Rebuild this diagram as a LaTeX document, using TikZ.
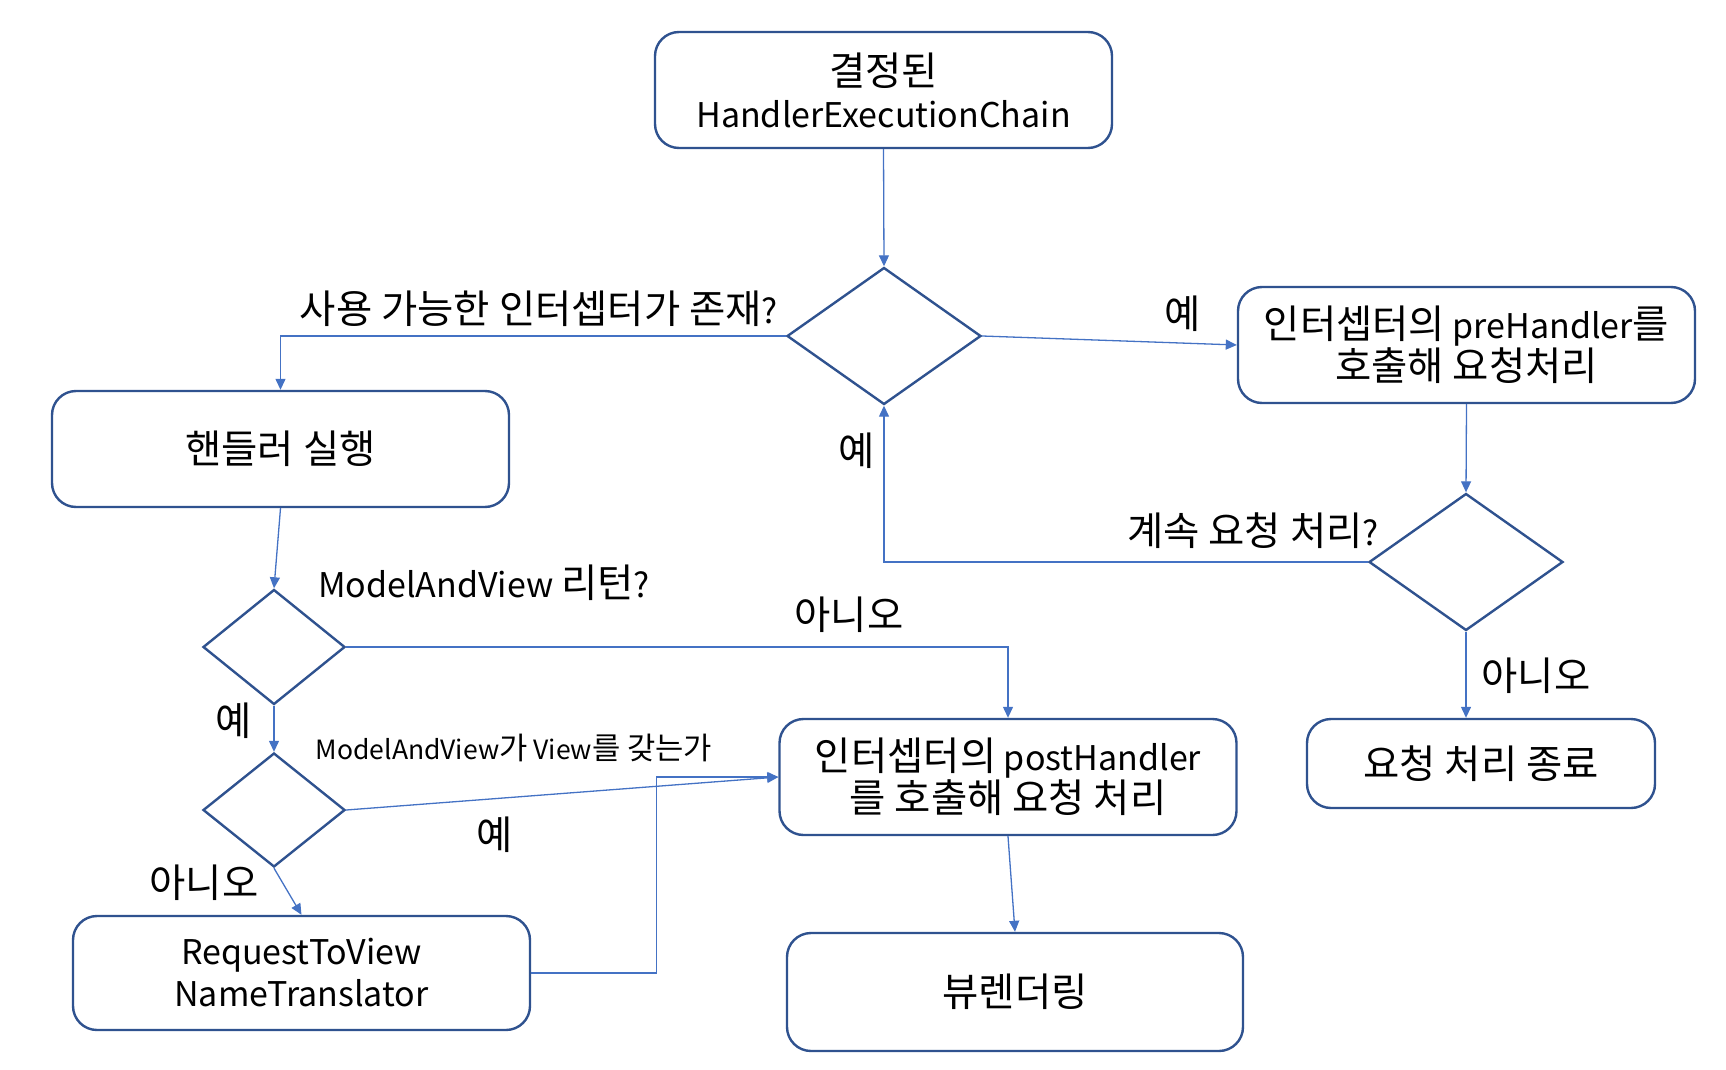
\documentclass[tikz,border=0pt]{standalone}
\usepackage{fontspec}
\setmainfont{Noto Sans CJK KR}
\newfontfamily\hangulfont{Noto Sans CJK KR}[Scale=1.16]
\newcommand{\hangul}[1]{{\hangulfont #1}}
\usetikzlibrary{shapes.geometric,arrows.meta}
\definecolor{boxline}{HTML}{2F528F}
\definecolor{linkline}{HTML}{4472C4}
\tikzset{
  procbox/.style={draw=boxline, line width=2.4pt, rounded corners=24pt, fill=white,
    minimum width=457pt, minimum height=116pt, inner sep=0pt, align=center,
    font=\fontsize{34}{42}\selectfont},
  decision/.style={draw=boxline, line width=2.4pt, diamond, inner sep=0pt, fill=white,
    minimum width=194pt, minimum height=137pt},
  smalldecision/.style={decision, minimum width=142pt, minimum height=115pt},
  link/.style={draw=linkline, line width=1.3pt, -{Triangle[length=11pt,width=10pt]}},
  lbl/.style={inner sep=0pt, font=\fontsize{34}{42}\selectfont},
  smalllbl/.style={inner sep=0pt, font=\fontsize{26.5}{32}\selectfont}
}
\begin{document}
\begin{tikzpicture}[x=1pt, y=-1pt]
\useasboundingbox (0,0) rectangle (1726,1070);
% Boxes
\node[procbox] (chain) at (883.5,90) {\hangul{결정된}\\HandlerExecutionChain};
\node[procbox] (pre) at (1466.5,345) {\hangul{인터셉터의} preHandler\hangul{를}\\\hangul{호출해 요청처리}};
\node[procbox, minimum width=348pt, minimum height=89pt] (done) at (1481,763.5) {\hangul{요청 처리 종료}};
\node[procbox] (handler) at (280.5,449) {\hangul{핸들러 실행}};
\node[procbox] (post) at (1008,777) {\hangul{인터셉터의} postHandler\\\hangul{를 호출해 요청 처리}};
\node[procbox, minimum height=114pt] (rtv) at (301.5,973) {RequestToView\\NameTranslator};
\node[procbox, minimum width=456pt, minimum height=118pt] (render) at (1015,992) {\hangul{뷰렌더링}};
% Decisions
\node[decision] (avail) at (884,336) {};
\node[decision] (cont) at (1466,562) {};
\node[smalldecision] (mavret) at (274,647) {};
\node[smalldecision, minimum height=114pt] (hasview) at (274,810) {};
% Connectors
\draw[link] (chain.south) -- (avail.north);
\draw[link] (avail.west) -| (handler.north);
\draw[link] (avail.east) -- (pre.west);
\draw[link] (pre.south) -- (cont.north);
\draw[link] (cont.west) -| (avail.south);
\draw[link] (cont.south) -- (cont.south |- done.north);
\draw[link] (handler.south) -- (mavret.north);
\draw[link] (mavret.east) -| (post.north);
\draw[link] (mavret.south) -- (hasview.north);
\draw[link] (hasview.east) -- (post.west);
\draw[link] (hasview.south) -- (rtv.north);
\draw[link] (rtv.east) -- ++(125,0) |- (post.west);
\draw[link] (post.south) -- (render.north);
% Labels
\node[lbl] (qavail) at (539,309) {\hangul{사용 가능한 인터셉터가 존재}?};
\node[lbl] (yespre) at (1183,314) {\hangul{예}};
\node[lbl] (yesloop) at (857,451) {\hangul{예}};
\node[lbl] (qcont) at (1253,531) {\hangul{계속 요청 처리}?};
\node[lbl] (nodone) at (1536,676) {\hangul{아니오}};
\node[lbl] (qmav) at (484,583) {ModelAndView \hangul{리턴}?};
\node[lbl] (nopost) at (849,615) {\hangul{아니오}};
\node[lbl] (yesview) at (234,721) {\hangul{예}};
\node[smalllbl] (qview) at (514,748) {ModelAndView\hangul{가} View\hangul{를 갖는가}};
\node[lbl] (yeshas) at (495,835) {\hangul{예}};
\node[lbl] (norTV) at (204,883) {\hangul{아니오}};
\end{tikzpicture}
\end{document}
